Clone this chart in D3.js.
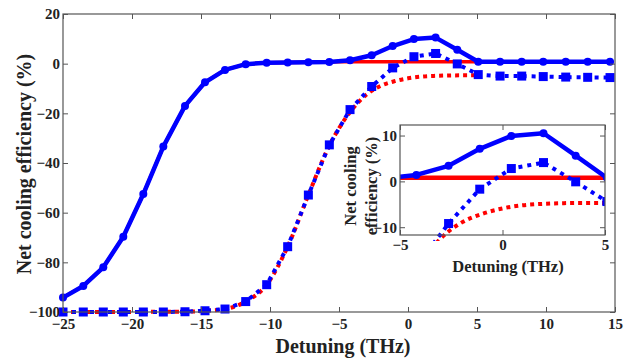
<!DOCTYPE html>
<head>
  <meta charset="utf-8">
  <script src="https://d3js.org/d3.v7.min.js"></script>
  <style>
    body { margin:0; background:#fff; }
    svg { display:block; }
    svg text { font-family:"Liberation Serif", "Times New Roman", Times, "DejaVu Serif", serif; font-weight:bold; fill:#222; }
    .tick text { font-size:15px; }
  </style>
</head>
<body>
<script>
// detuning grid of the measured points (THz)
var detuning = [-25, -23.53, -22.08, -20.63, -19.18, -17.73, -16.16, -14.71, -13.26, -11.76,
                -10.24, -8.72, -7.22, -5.70, -4.20, -2.63, -1.11, 0.43, 2.0, 3.57,
                5.09, 6.67, 8.24, 9.80, 11.43, 13.02, 14.64];
// blue solid with circles
var blueSolid = [-94.2, -89.5, -82.0, -69.7, -52.5, -33.4, -17.0, -7.5, -2.5, -0.2,
                 0.4, 0.5, 0.6, 0.7, 1.4, 3.4, 7.1, 9.9, 10.5, 5.6,
                 0.8, 0.8, 0.8, 0.8, 0.8, 0.8, 0.8];
// blue dotted with squares
var blueDotted = [-100, -100, -100, -100, -100, -100, -99.9, -99.5, -98.8, -95.8,
                  -89.0, -73.7, -52.9, -32.7, -18.5, -9.2, -1.7, 2.8, 4.1, -0.1,
                  -4.4, -5.0, -5.0, -5.2, -5.4, -5.5, -5.6];
// red solid (theory)
var redSolidDet = [-25, -23.53, -22.08, -20.63, -19.18, -17.73, -16.16, -14.71, -13.26, -11.76,
                   -10.24, -8.72, -7.22, -5.70, 5.0];
var redSolid = [-94.2, -89.5, -82.0, -69.7, -52.5, -33.4, -17.0, -7.5, -2.5, -0.2,
                0.4, 0.5, 0.6, 0.8, 0.8];
// red dotted (theory)
var redDotDet = [-25, -16.16, -14.71, -13.26, -11.76, -10.24, -8.72, -7.22, -5.70, -4.2,
                 -3, -2, -1, 0, 1, 2, 3, 4, 5];
var redDot = [-100, -99.9, -99.5, -98.8, -95.8, -89.0, -73.7, -52.9, -33.0, -19.5,
              -12.4, -9.0, -7.1, -5.9, -5.2, -4.9, -4.75, -4.7, -4.7];

var xTicks = [-25, -20, -15, -10, -5, 0, 5, 10, 15];
var yTicks = [-100, -80, -60, -40, -20, 0, 20];
var xTicksInset = [-5, 0, 5];
var yTicksInset = [-10, 0, 10];

var blue = "#0000ff", red = "#ff0000", axisCol = "#555";
var serif = "Liberation Serif, Times New Roman, serif";

var svg = d3.select("body").append("svg").attr("width", 634).attr("height", 362);

function zip(xs, ys) { return xs.map(function(d, i) { return [d, ys[i]]; }); }

function drawPanel(g, x, y, opt) {
  var x0 = x.range()[0], x1 = x.range()[1], y0 = y.range()[0], y1 = y.range()[1];
  g.append("rect").attr("x", x0).attr("y", y1).attr("width", x1 - x0).attr("height", y0 - y1)
    .attr("fill", "#fff");

  var plot = g.append("g");
  if (opt.clip) {
    g.append("clipPath").attr("id", opt.id).append("rect")
      .attr("x", x0).attr("y", y1 - 6).attr("width", x1 - x0).attr("height", y0 - y1 + 12);
    plot.attr("clip-path", "url(#" + opt.id + ")");
  }

  var line = d3.line().x(function(d) { return x(d[0]); }).y(function(d) { return y(d[1]); });
  var smooth = d3.line().curve(d3.curveMonotoneX)
    .x(function(d) { return x(d[0]); }).y(function(d) { return y(d[1]); });

  plot.append("path").attr("d", smooth(zip(redDotDet, redDot)))
    .attr("fill", "none").attr("stroke", red).attr("stroke-width", 4).attr("stroke-dasharray", "4,4");
  plot.append("path").attr("d", line(zip(redSolidDet, redSolid)))
    .attr("fill", "none").attr("stroke", red).attr("stroke-width", opt.redW);

  var dotData = zip(detuning, blueDotted);
  plot.append("path").attr("d", line(dotData))
    .attr("fill", "none").attr("stroke", blue).attr("stroke-width", 4).attr("stroke-dasharray", "4,5");
  plot.selectAll(".sq").data(dotData).enter().append("rect")
    .attr("x", function(d) { return x(d[0]) - 4.5; })
    .attr("y", function(d) { return y(d[1]) - 4.5; })
    .attr("width", 9).attr("height", 9).attr("fill", blue);

  var solidData = zip(detuning, blueSolid);
  plot.append("path").attr("d", line(solidData))
    .attr("fill", "none").attr("stroke", blue).attr("stroke-width", 4.5).attr("stroke-linejoin", "round");
  plot.selectAll(".ci").data(solidData).enter().append("circle")
    .attr("cx", function(d) { return x(d[0]); })
    .attr("cy", function(d) { return y(d[1]); })
    .attr("r", 4).attr("fill", blue);

  // axes with inside ticks
  g.append("g").attr("transform", "translate(0," + y0 + ")")
    .call(d3.axisBottom(x).tickValues(opt.xt).tickSize(-5).tickPadding(opt.xpad).tickFormat(d3.format("d")));
  g.append("g").attr("transform", "translate(0," + y1 + ")")
    .call(d3.axisTop(x).tickValues(opt.xt).tickSize(-5).tickFormat(""));
  g.append("g").attr("transform", "translate(" + x0 + ",0)")
    .call(d3.axisLeft(y).tickValues(opt.yt).tickSize(-5).tickPadding(opt.ypad).tickFormat(d3.format("d")));
  g.append("g").attr("transform", "translate(" + x1 + ",0)")
    .call(d3.axisRight(y).tickValues(opt.yt).tickSize(-5).tickFormat(""));
  g.selectAll(".domain").remove();
  g.selectAll(".tick line").attr("stroke", axisCol);
  g.selectAll(".tick text").attr("font-family", serif).attr("font-weight", "bold")
    .attr("font-size", 15).attr("fill", "#222");
  g.append("rect").attr("x", x0).attr("y", y1).attr("width", x1 - x0).attr("height", y0 - y1)
    .attr("fill", "none").attr("stroke", axisCol).attr("stroke-width", 1.2);
}

function title(g, text, size, tx, ty, rot) {
  g.append("text")
    .attr("transform", "translate(" + tx + "," + ty + ")" + (rot ? " rotate(-90)" : ""))
    .attr("text-anchor", "middle")
    .attr("font-family", serif).attr("font-weight", "bold").attr("font-size", size)
    .attr("fill", "#222").text(text);
}

// main panel
var x = d3.scaleLinear().domain([-25, 15]).range([63, 615]);
var y = d3.scaleLinear().domain([-100, 20]).range([312, 14]);
var main = svg.append("g");
drawPanel(main, x, y, { id: "clipMain", clip: false, xt: xTicks, yt: yTicks, xpad: 6, ypad: 3, redW: 3.5 });
title(main, "Detuning (THz)", 20, 343, 353, false);
title(main, "Net cooling efficiency (%)", 20, 31, 164, true);

// inset panel
var xi = d3.scaleLinear().domain([-5, 5]).range([400, 605]);
var yi = d3.scaleLinear().domain([-11.7, 12.3]).range([235, 125]);
var inset = svg.append("g");
drawPanel(inset, xi, yi, { id: "clipInset", clip: true, xt: xTicksInset, yt: yTicksInset, xpad: 4, ypad: 3, redW: 4.5 });
title(inset, "Detuning (THz)", 16.5, 508, 272, false);
title(inset, "Net cooling", 16.5, 356, 186, true);
title(inset, "efficiency (%)", 16.5, 377, 186, true);
</script>
</body>
